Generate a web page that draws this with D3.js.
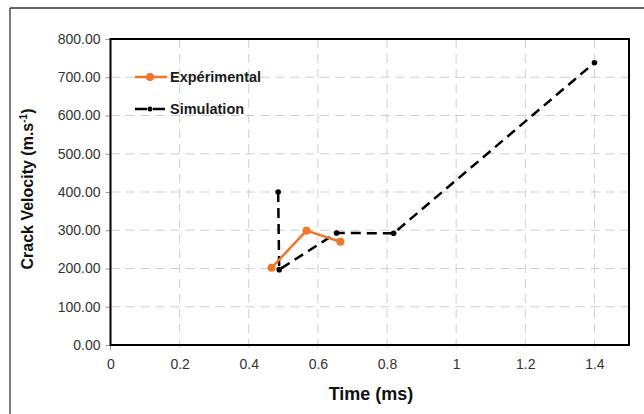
<!DOCTYPE html>
<html>
<head>
<meta charset="utf-8">
<script src="https://cdn.jsdelivr.net/npm/d3@7"></script>
<style>
  body { margin: 0; background: #fff; }
  svg { display: block; font-family: "Liberation Sans", Arial, sans-serif; }
</style>
</head>
<body>
<svg id="chart" width="644" height="414"></svg>
<script>
// data
var exp_time = [0.466, 0.567, 0.665];
var exp_velocity = [202, 299, 270];
var sim_time = [0.485, 0.488, 0.654, 0.819, 1.40];
var sim_velocity = [400, 197, 293, 292, 738];
var x_ticks = [0, 0.2, 0.4, 0.6, 0.8, 1, 1.2, 1.4];
var y_ticks = [0, 100, 200, 300, 400, 500, 600, 700, 800];

var margin = {left: 110.5, top: 39, right: 15, bottom: 69};
var width = 644 - margin.left - margin.right;
var height = 414 - margin.top - margin.bottom;

var svg = d3.select('#chart');

// outer frame (only top and left show in the crop)
svg.append('line')
  .attr('x1', 10).attr('y1', 8).attr('x2', 644).attr('y2', 8)
  .attr('stroke', '#666').attr('stroke-width', 2);
svg.append('line')
  .attr('x1', 10).attr('y1', 8).attr('x2', 10).attr('y2', 414)
  .attr('stroke', '#222').attr('stroke-width', 1.2);

var x_scale = d3.scaleLinear().domain([0, 1.5]).range([0, width]);
var y_scale = d3.scaleLinear().domain([0, 800]).range([height, 0]);

var g = svg.append('g')
  .attr('transform', 'translate(' + margin.left + ',' + margin.top + ')');

// dashed grid, vertical lines run a bit below the axis like excel ticks
g.append('g')
  .selectAll('line')
  .data(x_ticks.slice(1))
  .enter()
  .append('line')
  .attr('x1', function(d) { return x_scale(d); })
  .attr('x2', function(d) { return x_scale(d); })
  .attr('y1', 0)
  .attr('y2', height + 5)
  .attr('stroke', '#cfcfcf')
  .attr('stroke-width', 1)
  .attr('stroke-dasharray', '9,6');

g.append('g')
  .selectAll('line')
  .data(y_ticks.slice(1, -1))
  .enter()
  .append('line')
  .attr('x1', 0)
  .attr('x2', width)
  .attr('y1', function(d) { return y_scale(d); })
  .attr('y2', function(d) { return y_scale(d); })
  .attr('stroke', '#cfcfcf')
  .attr('stroke-width', 1)
  .attr('stroke-dasharray', '9,6');

// axes
var x_axis = d3.axisBottom(x_scale)
  .tickValues(x_ticks)
  .tickSize(0)
  .tickPadding(14)
  .tickFormat(function(d) { return d3.format('')(d); });

var y_axis = d3.axisLeft(y_scale)
  .tickValues(y_ticks)
  .tickSize(5)
  .tickPadding(5)
  .tickFormat(d3.format('.2f'));

g.append('g')
  .attr('transform', 'translate(0,' + height + ')')
  .call(x_axis)
  .call(function(sel) {
    sel.select('.domain').remove();
    sel.selectAll('text').attr('fill', '#333').style('font-size', '14px');
  });

// small tick at x = 0
g.append('line')
  .attr('x1', x_scale(0)).attr('x2', x_scale(0))
  .attr('y1', height).attr('y2', height + 5)
  .attr('stroke', '#999');

g.append('g')
  .call(y_axis)
  .call(function(sel) {
    sel.select('.domain').remove();
    sel.selectAll('line').attr('stroke', '#999');
    sel.selectAll('text').attr('fill', '#333').style('font-size', '14px');
  });

// plot border
g.append('rect')
  .attr('width', width)
  .attr('height', height)
  .attr('fill', 'none')
  .attr('stroke', '#000')
  .attr('stroke-width', 2);

var orange = '#f07526';

var sim_points = sim_time.map(function(t, i) { return [t, sim_velocity[i]]; });
var exp_points = exp_time.map(function(t, i) { return [t, exp_velocity[i]]; });

var line = d3.line()
  .x(function(d) { return x_scale(d[0]); })
  .y(function(d) { return y_scale(d[1]); });

// simulation series
g.append('path')
  .datum(sim_points)
  .attr('d', line)
  .attr('fill', 'none')
  .attr('stroke', '#000')
  .attr('stroke-width', 2.5)
  .attr('stroke-dasharray', '10,6');

g.append('g')
  .selectAll('circle')
  .data(sim_points)
  .enter()
  .append('circle')
  .attr('cx', function(d) { return x_scale(d[0]); })
  .attr('cy', function(d) { return y_scale(d[1]); })
  .attr('r', 2.8)
  .attr('fill', '#000');

// experimental series
g.append('path')
  .datum(exp_points)
  .attr('d', line)
  .attr('fill', 'none')
  .attr('stroke', orange)
  .attr('stroke-width', 2.5);

g.append('g')
  .selectAll('circle')
  .data(exp_points)
  .enter()
  .append('circle')
  .attr('cx', function(d) { return x_scale(d[0]); })
  .attr('cy', function(d) { return y_scale(d[1]); })
  .attr('r', 4)
  .attr('fill', orange);

// legend
var legend = svg.append('g');

legend.append('line')
  .attr('x1', 135).attr('x2', 167).attr('y1', 77).attr('y2', 77)
  .attr('stroke', orange).attr('stroke-width', 2.5);
legend.append('circle')
  .attr('cx', 150).attr('cy', 77).attr('r', 4).attr('fill', orange);
legend.append('text')
  .attr('x', 170).attr('y', 82)
  .style('font-size', '14.5px').style('font-weight', 'bold')
  .attr('fill', '#1a1a1a')
  .text('Expérimental');

legend.append('line')
  .attr('x1', 135).attr('x2', 167).attr('y1', 109).attr('y2', 109)
  .attr('stroke', '#000').attr('stroke-width', 2.5)
  .attr('stroke-dasharray', '12,6');
legend.append('circle')
  .attr('cx', 150).attr('cy', 109).attr('r', 2.5).attr('fill', '#000');
legend.append('text')
  .attr('x', 170).attr('y', 114)
  .style('font-size', '14.5px').style('font-weight', 'bold')
  .attr('fill', '#1a1a1a')
  .text('Simulation');

// axis titles
svg.append('text')
  .attr('x', 371)
  .attr('y', 400)
  .attr('text-anchor', 'middle')
  .style('font-size', '18px')
  .style('font-weight', 'bold')
  .attr('fill', '#111')
  .text('Time (ms)');

var y_title = svg.append('text')
  .attr('transform', 'translate(33,189) rotate(-90)')
  .attr('text-anchor', 'middle')
  .style('font-size', '16px')
  .style('font-weight', 'bold')
  .attr('fill', '#111');
y_title.append('tspan').text('Crack Velocity (m.s');
y_title.append('tspan').attr('dy', -6).style('font-size', '10px').text('-1');
y_title.append('tspan').attr('dy', 6).text(')');
</script>
</body>
</html>
